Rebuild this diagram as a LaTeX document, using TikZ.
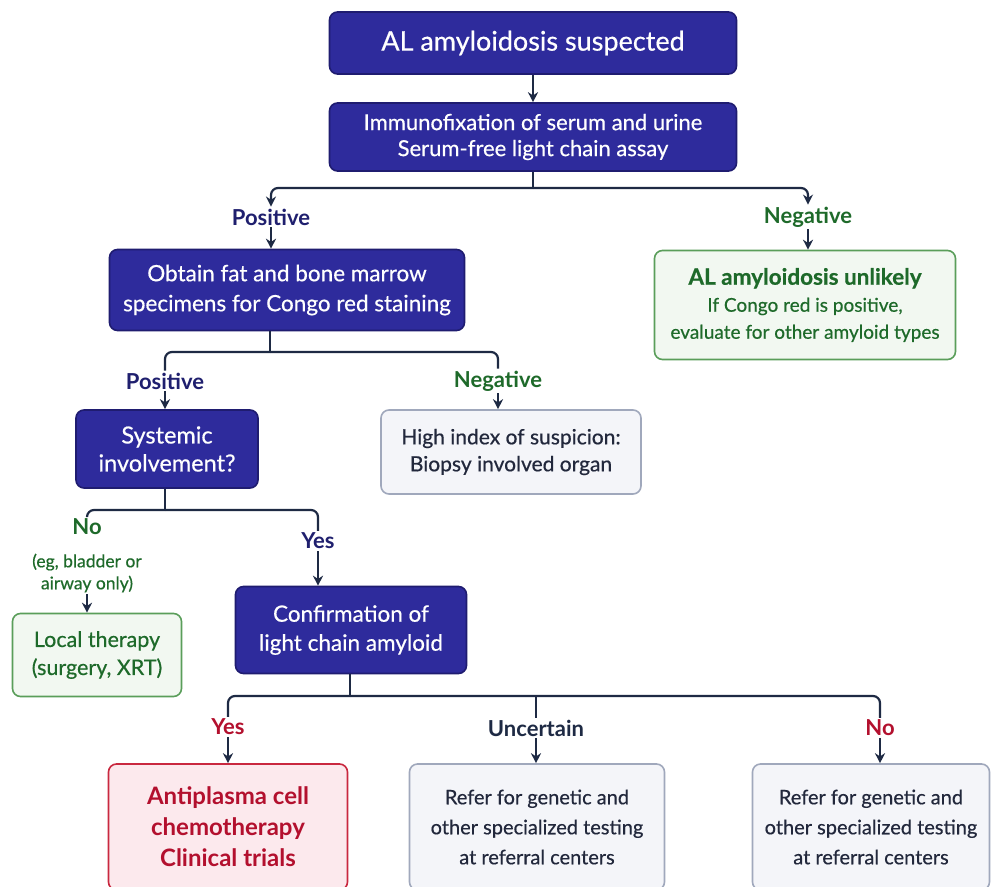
\documentclass[tikz,border=0pt]{standalone}
\usepackage{fontspec}
\setmainfont{Lato}
\newfontfamily\medfont{Lato}[FakeBold=0.5]
\usepackage{xcolor}
\usepackage{tikz}
\usetikzlibrary{positioning,arrows.meta,calc}

\definecolor{boxblue}{HTML}{2E2B9C}
\definecolor{boxblueline}{HTML}{1F1C70}
\definecolor{linenavy}{HTML}{1E2A44}
\definecolor{lblnavy}{HTML}{1F1F6E}
\definecolor{okgreen}{HTML}{1E6A2A}
\definecolor{okgreenline}{HTML}{5A9E5A}
\definecolor{okgreenfill}{HTML}{F2F8F1}
\definecolor{greyline}{HTML}{A0A8BC}
\definecolor{greyfill}{HTML}{F4F5F9}
\definecolor{greytext}{HTML}{22283C}
\definecolor{alertred}{HTML}{B3102E}
\definecolor{alertline}{HTML}{C9283F}
\definecolor{alertfill}{HTML}{FCE9ED}

\begin{document}
\begin{tikzpicture}[
  x=1pt, y=-1pt, >={Stealth[length=10pt,width=10pt]},
  bluebox/.style={draw=boxblueline, fill=boxblue, text=white, line width=1.6pt,
                  rounded corners=8pt, align=center, inner sep=0pt},
  goodbox/.style={draw=okgreenline, fill=okgreenfill, text=okgreen, line width=1.6pt,
                  rounded corners=8pt, align=center, inner sep=0pt},
  greybox/.style={draw=greyline, fill=greyfill, text=greytext, line width=1.6pt,
                  rounded corners=8pt, align=center, inner sep=0pt},
  redbox/.style={draw=alertline, fill=alertfill, text=alertred, line width=1.6pt,
                 rounded corners=8pt, align=center, inner sep=0pt,
                 font=\fontsize{24}{31}\selectfont\bfseries},
  lbl/.style={inner sep=2pt, font=\fontsize{22}{24}\selectfont\bfseries},
  lblpos/.style={lbl, text=lblnavy},
  lblneg/.style={lbl, text=okgreen},
  lblred/.style={lbl, text=alertred},
  link/.style={draw=linenavy, line width=2.2pt, rounded corners=7pt},
  arr/.style={link, ->},
]
\clip (0,0) rectangle (1001,886);
\fill[white] (0,0) rectangle (1001,886);

\node[bluebox, minimum width=407, minimum height=62, font=\medfont\fontsize{27}{30}\selectfont]
  (sus) at (533,43) {AL amyloidosis suspected};
\node[bluebox, minimum width=407, minimum height=68, font=\medfont\fontsize{22}{26}\selectfont]
  (imm) at (533,137) {Immunofixation of serum and urine\\Serum-free light chain assay};
\node[bluebox, minimum width=355, minimum height=81, font=\medfont\fontsize{22.5}{30}\selectfont]
  (fat) at (287,290) {Obtain fat and bone marrow\\specimens for Congo red staining};
\node[goodbox, minimum width=301, minimum height=109, font=\medfont\fontsize{19}{27}\selectfont]
  (unl) at (805,305) {{\fontsize{22.5}{28}\selectfont\bfseries AL amyloidosis unlikely}\\If Congo red is positive,\\evaluate for other amyloid types};
\node[bluebox, minimum width=182, minimum height=78, font=\medfont\fontsize{23.5}{28}\selectfont]
  (sys) at (167,449) {Systemic\\involvement?};
\node[greybox, minimum width=260, minimum height=84, font=\medfont\fontsize{21}{27}\selectfont]
  (hiq) at (511,452) {High index of suspicion:\\Biopsy involved organ};
\node[goodbox, minimum width=169, minimum height=83, font=\medfont\fontsize{21.5}{28}\selectfont]
  (loc) at (97,655) {Local therapy\\(surgery, XRT)};
\node[bluebox, minimum width=231, minimum height=87, font=\medfont\fontsize{22.5}{29}\selectfont]
  (conf) at (351,630) {Confirmation of\\light chain amyloid};
\node[redbox, minimum width=239, minimum height=126]
  (chem) at (228,827) {Antiplasma cell\\chemotherapy\\Clinical trials};
\node[greybox, minimum width=255, minimum height=126, font=\medfont\fontsize{20}{30}\selectfont]
  (ref1) at (537,827) {Refer for genetic and\\other specialized testing\\at referral centers};
\node[greybox, minimum width=237, minimum height=126, font=\medfont\fontsize{20}{30}\selectfont]
  (ref2) at (871,827) {Refer for genetic and\\other specialized testing\\at referral centers};

\node[lblpos] (pos1) at (271,217) {Positive};
\node[lblneg] (neg1) at (808,217) {Negative};
\node[lblpos] (pos2) at (165,381) {Positive};
\node[lblneg] (neg2) at (498,381) {Negative};
\node[lblneg] (no1) at (87,527) {No};
\node[lblneg, align=center, font=\medfont\fontsize{17.5}{22}\selectfont] (no1note) at (87,573) {(eg, bladder or\\airway only)};
\node[lblpos] (yes1) at (318,541) {Yes};
\node[lblred] (yes2) at (228,727) {Yes};
\node[lblpos, text=linenavy] (unc) at (536,728) {Uncertain};
\node[lblred] (no2) at (880,728) {No};

\coordinate (j1) at (533,188);
\coordinate (j2) at (270,352);
\coordinate (j3) at (165,510);
\coordinate (j4) at (350,696);

\draw[arr] (sus) -- (imm);
\draw[link] (imm.south) -- (j1);
\draw[arr] (j1) -| (pos1.north);
\draw[arr] (j1) -| (neg1.north);
\draw[arr] (pos1.south) -- (pos1.south |- fat.north);
\draw[arr] (neg1.south) -- (neg1.south |- unl.north);

\draw[link] (fat.south -| j2) -- (j2);
\draw[link] (j2) -| (pos2.north);
\draw[link] (j2) -| (neg2.north);
\draw[arr] (pos2.south) -- (pos2.south |- sys.north);
\draw[arr] (neg2.south) -- (neg2.south |- hiq.north);

\draw[link] (sys.south -| j3) -- (j3);
\draw[link] (j3) -| (no1.north);
\draw[link] (j3) -| (yes1.north);
\draw[arr] (no1note.south) -- (no1note.south |- loc.north);
\draw[arr] (yes1.south) -- (yes1.south |- conf.north);

\draw[link] (conf.south -| j4) -- (j4);
\draw[link] (j4) -| (yes2.north);
\draw[link] (j4) -| (no2.north);
\draw[link] (unc.north |- j4) -- (unc.north);
\draw[arr] (yes2.south) -- (yes2.south |- chem.north);
\draw[arr] (unc.south) -- (unc.south |- ref1.north);
\draw[arr] (no2.south) -- (no2.south |- ref2.north);
\end{tikzpicture}
\end{document}
